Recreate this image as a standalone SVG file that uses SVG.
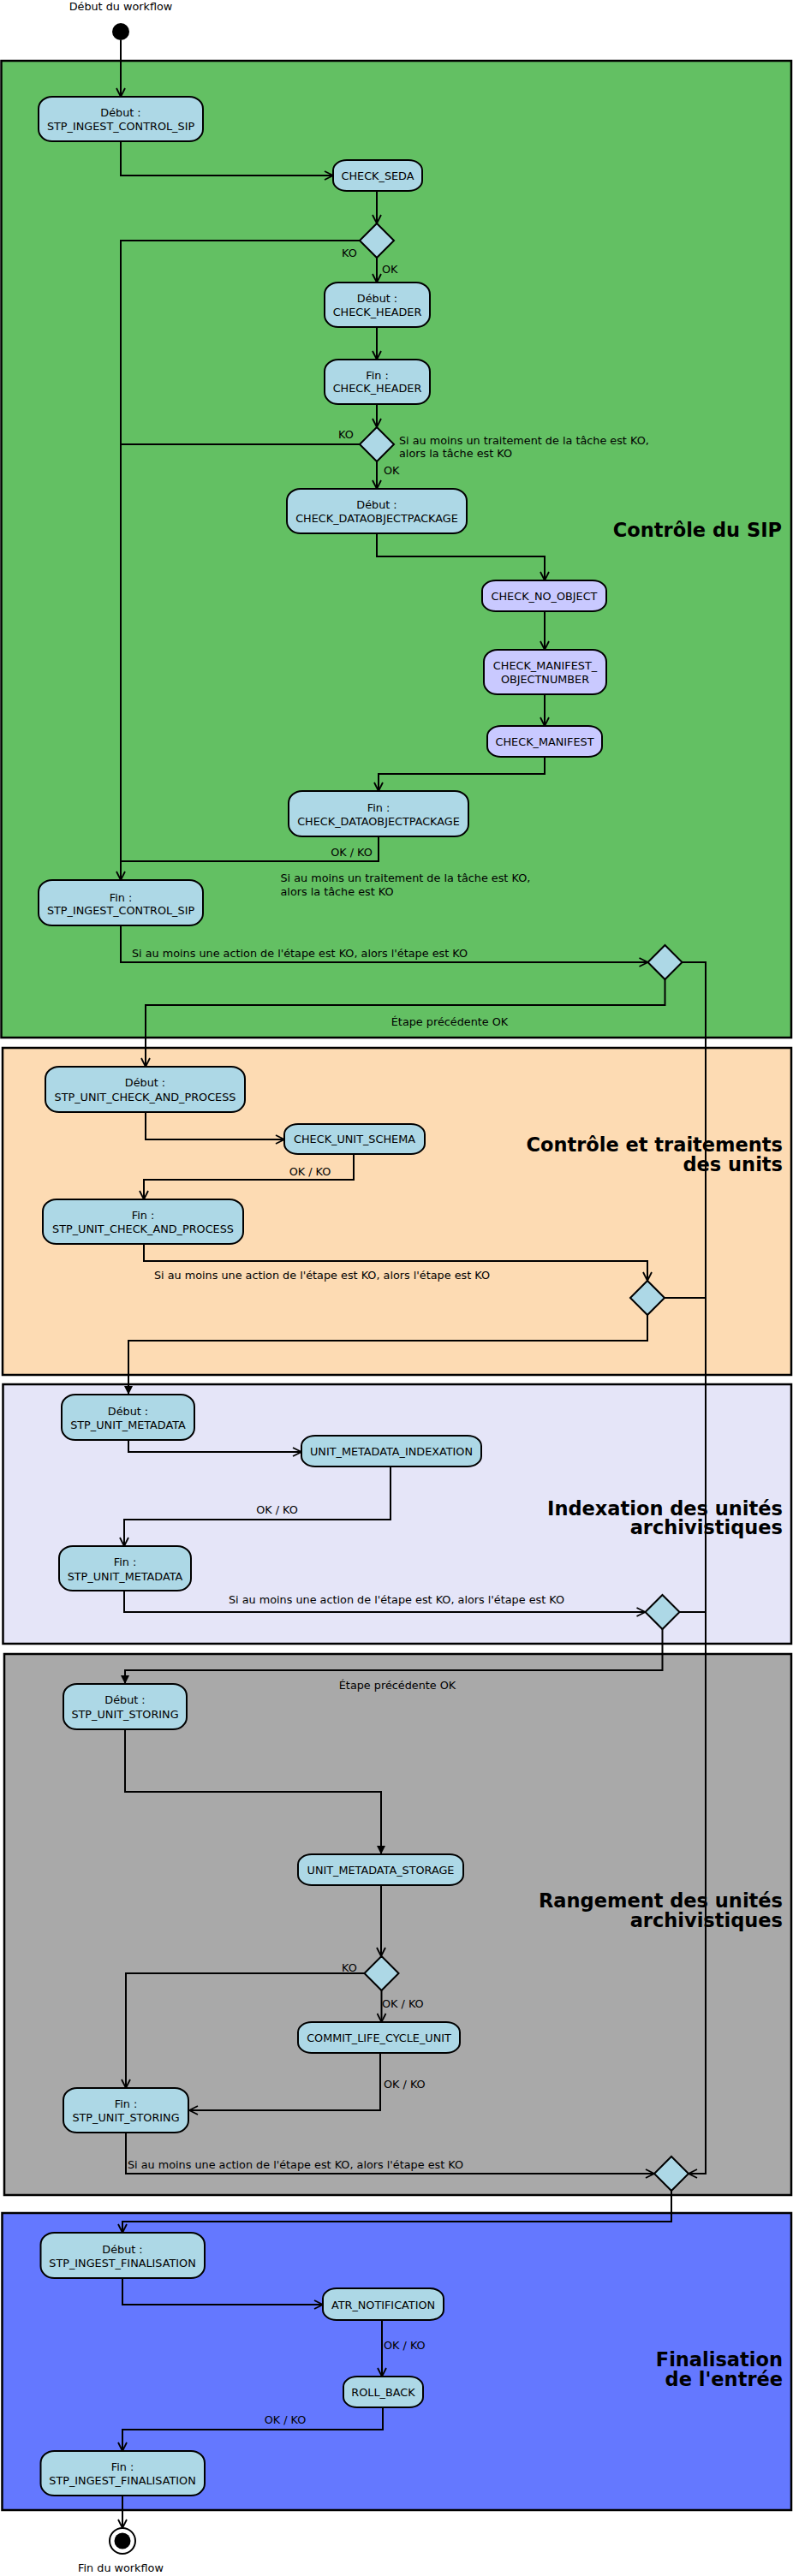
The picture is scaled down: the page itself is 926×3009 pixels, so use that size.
<svg xmlns="http://www.w3.org/2000/svg" width="926" height="3009" viewBox="0 0 926 3009">
<defs>
<marker id="ao" markerUnits="userSpaceOnUse" viewBox="0 0 12 12" refX="11" refY="6" markerWidth="12" markerHeight="12" orient="auto"><path d="M1,1 L11,6 L1,11" fill="none" stroke="#000" stroke-width="1.8"/></marker>
<marker id="af" markerUnits="userSpaceOnUse" viewBox="0 0 12 12" refX="11" refY="6" markerWidth="12" markerHeight="12" orient="auto"><path d="M1,1 L11,6 L1,11 z" fill="#000"/></marker>
</defs>
<style>
.t{font-family:"DejaVu Sans",sans-serif;font-size:12.8px;fill:#000}
.m{text-anchor:middle}
.h{font-family:"DejaVu Sans",sans-serif;font-size:22.5px;font-weight:bold;text-anchor:end;fill:#000}
.n{fill:#add8e6;stroke:#000;stroke-width:2}
.p{fill:#c9c9ff;stroke:#000;stroke-width:2}
.d{fill:#add8e6;stroke:#000;stroke-width:2}
.e{fill:none;stroke:#000;stroke-width:2}
.a{marker-end:url(#ao)}
.f{marker-end:url(#af)}
.sec{stroke:#000;stroke-width:2.5}
</style>
<rect x="0" y="0" width="926" height="3009" fill="#fff"/>
<g id="sections">
<rect class="sec" x="1.5" y="71" width="922.5" height="1141" fill="#63c063"/>
<rect class="sec" x="3" y="1224" width="921" height="382" fill="#fddbb3"/>
<rect class="sec" x="3.5" y="1617" width="920.5" height="303" fill="#e5e5f8"/>
<rect class="sec" x="5" y="1932" width="919" height="632" fill="#a9a9a9"/>
<rect class="sec" x="2.5" y="2585" width="921.5" height="347" fill="#6478ff"/>
<text class="h" x="913" y="627">Contrôle du SIP</text>
<text class="h" x="914" y="1345">Contrôle et traitements</text>
<text class="h" x="914" y="1368">des units</text>
<text class="h" x="914" y="1770">Indexation des unités</text>
<text class="h" x="914" y="1792">archivistiques</text>
<text class="h" x="914" y="2228">Rangement des unités</text>
<text class="h" x="914" y="2251">archivistiques</text>
<text class="h" x="914" y="2764">Finalisation</text>
<text class="h" x="914" y="2787">de l'entrée</text>
</g>
<g id="connectors">
<path class="e a" d="M141,47 V113"/>
<path class="e a" d="M141,165 V205 H389"/>
<path class="e a" d="M440,223 V261"/>
<path class="e a" d="M420,281 H141 V1028"/>
<path class="e" d="M420,519 H141"/>
<path class="e" d="M442,977 V1006 H141"/>
<path class="e a" d="M440,301 V330"/>
<path class="e a" d="M440,382 V420"/>
<path class="e a" d="M440,472 V499"/>
<path class="e a" d="M440,539 V571"/>
<path class="e a" d="M440,623 V650 H636 V678"/>
<path class="e a" d="M636,714 V759"/>
<path class="e a" d="M636,811 V848"/>
<path class="e a" d="M636,884 V904 H442 V924"/>
<path class="e a" d="M141,1081 V1124 H756.5"/>
<path class="e a" d="M796.5,1124 H824 V2539 H804"/>
<path class="e a" d="M776.5,1144 V1174 H170 V1246"/>
<path class="e a" d="M170,1299 V1331 H332"/>
<path class="e a" d="M413,1348 V1378 H168 V1401"/>
<path class="e a" d="M168,1453 V1473 H756 V1496"/>
<path class="e" d="M776,1516 H824"/>
<path class="e f" d="M756,1536 V1566 H150 V1629"/>
<path class="e a" d="M150,1682 V1696 H352"/>
<path class="e a" d="M456,1713 V1775 H145 V1806"/>
<path class="e a" d="M145,1858 V1883 H753.5"/>
<path class="e" d="M793.5,1883 H824"/>
<path class="e f" d="M773.5,1903 V1951 H146 V1967"/>
<path class="e f" d="M146,2020 V2093 H445 V2166"/>
<path class="e a" d="M445,2202 V2285"/>
<path class="e a" d="M425.5,2305 H147 V2439"/>
<path class="e a" d="M445.5,2325 V2362"/>
<path class="e a" d="M444,2398 V2465 H221"/>
<path class="e a" d="M147,2491 V2539 H764"/>
<path class="e a" d="M784,2559 V2595 H143 V2608"/>
<path class="e a" d="M143,2661 V2692 H377"/>
<path class="e a" d="M446,2710 V2776"/>
<path class="e a" d="M447,2812 V2838 H143 V2863"/>
<path class="e a" d="M143,2915 V2953"/>
</g>
<g id="labels">
<text class="t m" x="141" y="12">Début du workflow</text>
<text class="t m" x="408" y="299.5">KO</text>
<text class="t" x="446" y="318.5">OK</text>
<text class="t m" x="404" y="511.5">KO</text>
<text class="t" x="466" y="518.5">Si au moins un traitement de la tâche est KO,</text>
<text class="t" x="466" y="533.5">alors la tâche est KO</text>
<text class="t" x="448" y="553.5">OK</text>
<text class="t m" x="410.5" y="999.5">OK / KO</text>
<text class="t" x="327.5" y="1029.5">Si au moins un traitement de la tâche est KO,</text>
<text class="t" x="327.5" y="1045.5">alors la tâche est KO</text>
<text class="t" x="154" y="1117.5">Si au moins une action de l'étape est KO, alors l'étape est KO</text>
<text class="t m" x="525" y="1197.5">Étape précédente OK</text>
<text class="t m" x="362" y="1372.5">OK / KO</text>
<text class="t" x="180" y="1493.5">Si au moins une action de l'étape est KO, alors l'étape est KO</text>
<text class="t m" x="323.5" y="1767.5">OK / KO</text>
<text class="t" x="267" y="1872.5">Si au moins une action de l'étape est KO, alors l'étape est KO</text>
<text class="t m" x="464" y="1972.5">Étape précédente OK</text>
<text class="t m" x="408" y="2302.5">KO</text>
<text class="t" x="446" y="2344.5">OK / KO</text>
<text class="t" x="448" y="2438.5">OK / KO</text>
<text class="t" x="149" y="2532.5">Si au moins une action de l'étape est KO, alors l'étape est KO</text>
<text class="t" x="448" y="2743.5">OK / KO</text>
<text class="t m" x="333" y="2830.5">OK / KO</text>
<text class="t m" x="141" y="3004">Fin du workflow</text>
</g>
<g id="start"><circle cx="141" cy="37" r="10" fill="#000"/></g>
<g id="end"><circle cx="143" cy="2968" r="15" fill="#fff" stroke="#000" stroke-width="2"/><circle cx="143" cy="2968" r="9.5" fill="#000"/></g>
<g id="n-sip-start"><rect class="n" x="45" y="113" width="192" height="52" rx="16" ry="14"/><text class="t m" x="141" y="136">Début :</text><text class="t m" x="141" y="152">STP_INGEST_CONTROL_SIP</text></g>
<g id="n-check-seda"><rect class="n" x="389" y="187" width="104" height="36" rx="16" ry="12"/><text class="t m" x="441" y="209.7">CHECK_SEDA</text></g>
<g id="d1"><polygon class="d" points="440,261 460,281 440,301 420,281"/></g>
<g id="n-header-start"><rect class="n" x="379" y="330" width="123" height="52" rx="16" ry="14"/><text class="t m" x="440.5" y="353">Début :</text><text class="t m" x="440.5" y="368.5">CHECK_HEADER</text></g>
<g id="n-header-end"><rect class="n" x="379" y="420" width="123" height="52" rx="16" ry="14"/><text class="t m" x="440.5" y="442.5">Fin :</text><text class="t m" x="440.5" y="458">CHECK_HEADER</text></g>
<g id="d2"><polygon class="d" points="440,499 460,519 440,539 420,519"/></g>
<g id="n-dop-start"><rect class="n" x="335" y="571" width="210" height="52" rx="16" ry="14"/><text class="t m" x="440" y="594">Début :</text><text class="t m" x="440" y="610">CHECK_DATAOBJECTPACKAGE</text></g>
<g id="n-no-object"><rect class="p" x="563" y="678" width="145" height="36" rx="16" ry="12"/><text class="t m" x="635.5" y="700.7">CHECK_NO_OBJECT</text></g>
<g id="n-manifest-objnum"><rect class="p" x="565" y="759" width="143" height="52" rx="16" ry="14"/><text class="t m" x="636.5" y="782">CHECK_MANIFEST_</text><text class="t m" x="636.5" y="798">OBJECTNUMBER</text></g>
<g id="n-manifest"><rect class="p" x="569" y="848" width="134" height="36" rx="16" ry="12"/><text class="t m" x="636" y="870.7">CHECK_MANIFEST</text></g>
<g id="n-dop-end"><rect class="n" x="337" y="924" width="210" height="53" rx="16" ry="14"/><text class="t m" x="442" y="948">Fin :</text><text class="t m" x="442" y="964">CHECK_DATAOBJECTPACKAGE</text></g>
<g id="n-sip-end"><rect class="n" x="45" y="1028" width="192" height="53" rx="16" ry="14"/><text class="t m" x="141" y="1052.7">Fin :</text><text class="t m" x="141" y="1068">STP_INGEST_CONTROL_SIP</text></g>
<g id="d3"><polygon class="d" points="776.5,1104 796.5,1124 776.5,1144 756.5,1124"/></g>
<g id="n-ucp-start"><rect class="n" x="53" y="1246" width="233" height="53" rx="16" ry="14"/><text class="t m" x="169.5" y="1268.5">Début :</text><text class="t m" x="169.5" y="1285.5">STP_UNIT_CHECK_AND_PROCESS</text></g>
<g id="n-check-unit-schema"><rect class="n" x="332" y="1313" width="164" height="35" rx="16" ry="12"/><text class="t m" x="414" y="1335">CHECK_UNIT_SCHEMA</text></g>
<g id="n-ucp-end"><rect class="n" x="50" y="1401" width="234" height="52" rx="16" ry="14"/><text class="t m" x="167" y="1424">Fin :</text><text class="t m" x="167" y="1440">STP_UNIT_CHECK_AND_PROCESS</text></g>
<g id="d4"><polygon class="d" points="756,1496 776,1516 756,1536 736,1516"/></g>
<g id="n-um-start"><rect class="n" x="72" y="1629" width="155" height="53" rx="16" ry="14"/><text class="t m" x="149.5" y="1652.7">Début :</text><text class="t m" x="149.5" y="1668.7">STP_UNIT_METADATA</text></g>
<g id="n-umi"><rect class="n" x="352" y="1677" width="210" height="36" rx="16" ry="12"/><text class="t m" x="457" y="1699.7">UNIT_METADATA_INDEXATION</text></g>
<g id="n-um-end"><rect class="n" x="69" y="1806" width="154" height="52" rx="16" ry="14"/><text class="t m" x="146" y="1828.7">Fin :</text><text class="t m" x="146" y="1845.7">STP_UNIT_METADATA</text></g>
<g id="d5"><polygon class="d" points="773.5,1863 793.5,1883 773.5,1903 753.5,1883"/></g>
<g id="n-us-start"><rect class="n" x="74" y="1967" width="144" height="53" rx="16" ry="14"/><text class="t m" x="146" y="1990">Début :</text><text class="t m" x="146" y="2006.5">STP_UNIT_STORING</text></g>
<g id="n-ums"><rect class="n" x="348" y="2166" width="193" height="36" rx="16" ry="12"/><text class="t m" x="444.5" y="2188.7">UNIT_METADATA_STORAGE</text></g>
<g id="d6"><polygon class="d" points="445.5,2285 465.5,2305 445.5,2325 425.5,2305"/></g>
<g id="n-clcu"><rect class="n" x="348" y="2362" width="189" height="36" rx="16" ry="12"/><text class="t m" x="442.5" y="2384.7">COMMIT_LIFE_CYCLE_UNIT</text></g>
<g id="n-us-end"><rect class="n" x="74" y="2439" width="146" height="52" rx="16" ry="14"/><text class="t m" x="147" y="2461.7">Fin :</text><text class="t m" x="147" y="2477.7">STP_UNIT_STORING</text></g>
<g id="d7"><polygon class="d" points="784,2519 804,2539 784,2559 764,2539"/></g>
<g id="n-if-start"><rect class="n" x="47.5" y="2608" width="191.5" height="53" rx="16" ry="14"/><text class="t m" x="143" y="2631.7">Début :</text><text class="t m" x="143" y="2647.7">STP_INGEST_FINALISATION</text></g>
<g id="n-atr"><rect class="n" x="377" y="2673" width="141" height="37" rx="16" ry="12"/><text class="t m" x="447.5" y="2696.5">ATR_NOTIFICATION</text></g>
<g id="n-rollback"><rect class="n" x="401" y="2776" width="93" height="36" rx="16" ry="12"/><text class="t m" x="447.5" y="2798.7">ROLL_BACK</text></g>
<g id="n-if-end"><rect class="n" x="47.5" y="2863" width="191.5" height="52" rx="16" ry="14"/><text class="t m" x="143" y="2885.7">Fin :</text><text class="t m" x="143" y="2901.7">STP_INGEST_FINALISATION</text></g>
</svg>
